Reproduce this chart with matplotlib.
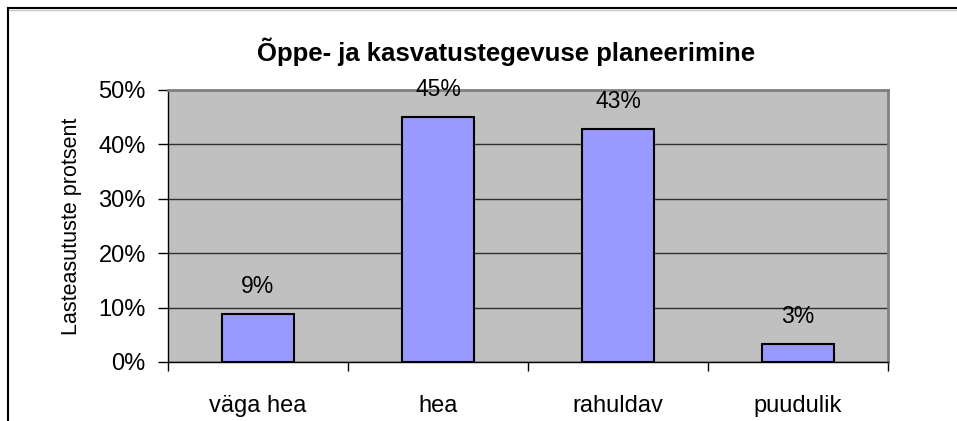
import numpy as np
import matplotlib
matplotlib.use("Agg")
import matplotlib.pyplot as plt
from matplotlib.lines import Line2D

plt.rcParams['font.family'] = ['Liberation Sans', 'DejaVu Sans']

# data
categories = ["väga hea", "hea", "rahuldav", "puudulik"]
values = [8.8, 45.0, 42.8, 3.3]
labels = ["9%", "45%", "43%", "3%"]
yticks = [0, 10, 20, 30, 40, 50]

fig = plt.figure(figsize=(9.57, 4.21), dpi=100)
ax = fig.add_axes([168/957, 1-362/421, 720/957, 272/421])
ax.set_facecolor("#C0C0C0")

x = np.arange(len(categories))
ax.bar(x, values, width=0.4, color="#9999FF", edgecolor="black", linewidth=1.5, zorder=3)
for xi, v, lab in zip(x, values, labels):
    ax.annotate(lab, (xi, v), xytext=(0, 20), textcoords="offset points",
                ha="center", va="center", fontsize=16.5, zorder=4)

ax.set_xlim(-0.5, len(categories) - 0.5)
ax.set_ylim(0, 50)
ax.set_yticks(yticks)
ax.set_yticklabels([f"{t}%" for t in yticks])
ax.yaxis.grid(True, color="#303030", linewidth=1.0, zorder=1)
ax.set_axisbelow(True)

ax.set_xticks(x)
ax.set_xticklabels(categories)
ax.set_xticks(np.arange(-0.5, len(categories)), minor=True)
ax.tick_params(axis="x", which="major", length=0, pad=24, labelsize=17)
ax.tick_params(axis="x", which="minor", length=6.5, width=1, color="black", direction="out")
ax.tick_params(axis="y", length=7, width=1, pad=9, labelsize=17)

for s in ["top", "right"]:
    ax.spines[s].set_color("#808080")
    ax.spines[s].set_linewidth(2)
for s in ["left", "bottom"]:
    ax.spines[s].set_color("black")
    ax.spines[s].set_linewidth(1)

ax.set_ylabel("Lasteasutuste protsent", fontsize=15.5, labelpad=12)
fig.text(0.529, 1-52/421, "Õppe- ja kasvatustegevuse planeerimine",
         ha="center", va="center", fontsize=18.5, fontweight="bold")

# chart frame (cropped on right/bottom)
fig.add_artist(Line2D([8/957, 1], [1-8/421, 1-8/421], color="black", lw=1.5, transform=fig.transFigure))
fig.add_artist(Line2D([8/957, 1], [1-10/421, 1-10/421], color="#C8C8C8", lw=1, transform=fig.transFigure))
fig.add_artist(Line2D([8/957, 8/957], [0, 1-8/421], color="black", lw=1.5, transform=fig.transFigure))

fig.savefig("out.png", dpi=100)
